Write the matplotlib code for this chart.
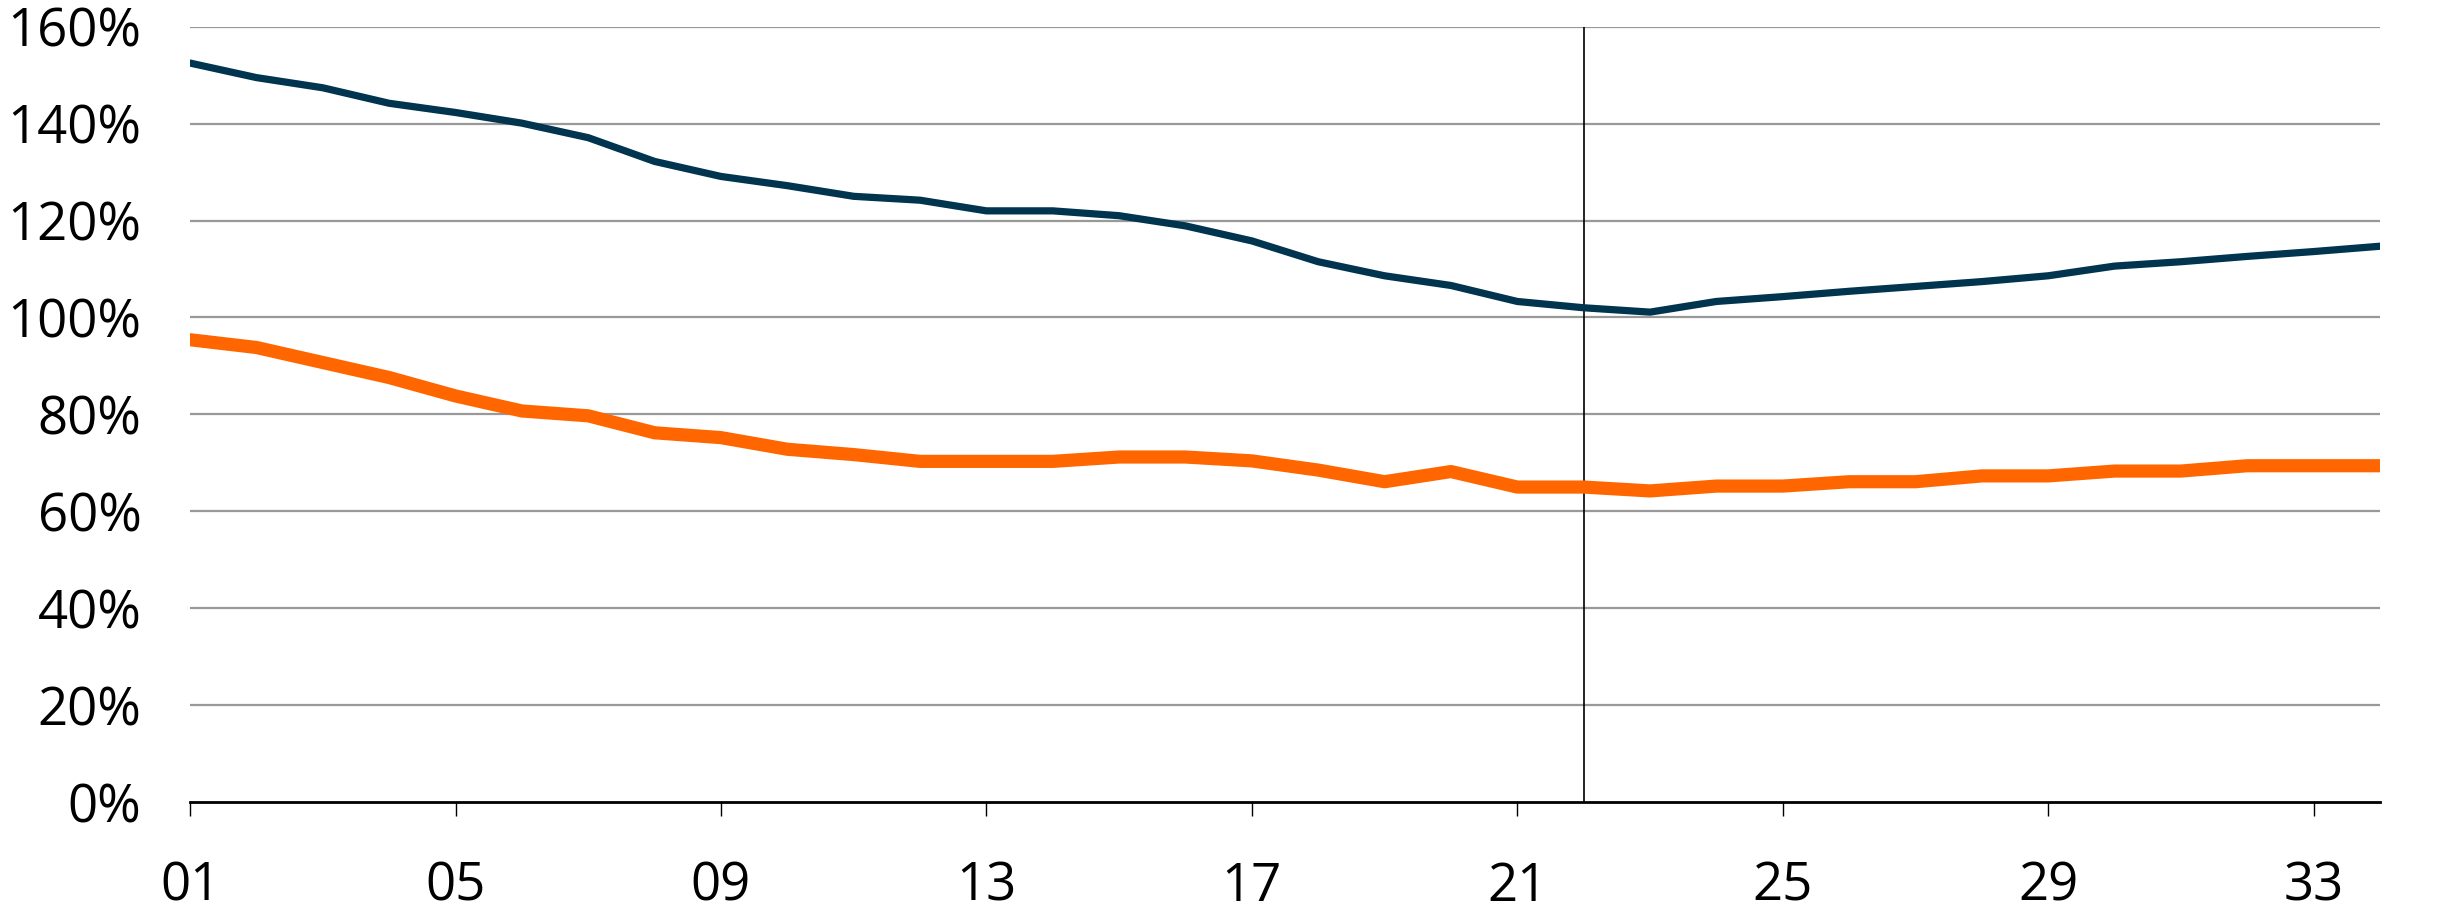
import matplotlib.pyplot as plt
from matplotlib.ticker import FuncFormatter

plt.rcParams['font.family'] = ['Open Sans', 'DejaVu Sans']

# Data
years = list(range(1, 35))
navy_vals = [152.5, 149.5, 147.4, 144.2, 142.3, 140.1, 137.1, 132.2, 129.1, 127.2,
             125.0, 124.2, 122.0, 122.0, 121.0, 118.9, 115.8, 111.5, 108.6, 106.6,
             103.3, 102.0, 101.1, 103.3, 104.3, 105.4, 106.4, 107.4, 108.6, 110.6,
             111.5, 112.6, 113.6, 114.7]
orange_vals = [95.4, 93.8, 90.7, 87.6, 83.8, 80.7, 79.7, 76.2, 75.2, 72.8,
               71.7, 70.3, 70.3, 70.3, 71.2, 71.2, 70.4, 68.5, 66.1, 68.2,
               65.0, 65.0, 64.2, 65.2, 65.2, 66.1, 66.1, 67.3, 67.3, 68.3,
               68.3, 69.4, 69.4, 69.4]
xticks = [1, 5, 9, 13, 17, 21, 25, 29, 33]
xtick_labels = ["01", "05", "09", "13", "17", "21", "25", "29", "33"]
yticks = [0, 20, 40, 60, 80, 100, 120, 140, 160]
marker_year = 22

fig = plt.figure(figsize=(24.37, 9.09), dpi=100)
ax = fig.add_axes([0.078, 0.1177, 0.8986, 0.8529])

# Grid
for y in yticks[1:]:
    ax.axhline(y, color="#999999", linewidth=1.6, zorder=1)

ax.plot(years, navy_vals, color="#00344F", linewidth=5.2, solid_capstyle="round",
        solid_joinstyle="round", zorder=3)
ax.plot(years, orange_vals, color="#FF6600", linewidth=9.5, solid_capstyle="round",
        solid_joinstyle="round", zorder=3)

# Vertical marker line
ax.axvline(marker_year, color="black", linewidth=1.2, zorder=2)

ax.set_xlim(1, 34)
ax.set_ylim(0, 160)
ax.set_yticks(yticks)
ax.yaxis.set_major_formatter(FuncFormatter(lambda v, p: f"{v:.0f}%"))
ax.set_xticks(xticks)
ax.set_xticklabels(xtick_labels)

for s in ["left", "right", "top"]:
    ax.spines[s].set_visible(False)
ax.spines["bottom"].set_color("black")
ax.spines["bottom"].set_linewidth(2)
ax.spines["bottom"].set_zorder(4)

ax.tick_params(axis="y", length=0, pad=35, labelsize=38)
ax.tick_params(axis="x", length=10, width=1, direction="out", pad=32, labelsize=38)

plt.savefig("out.png", dpi=100)
